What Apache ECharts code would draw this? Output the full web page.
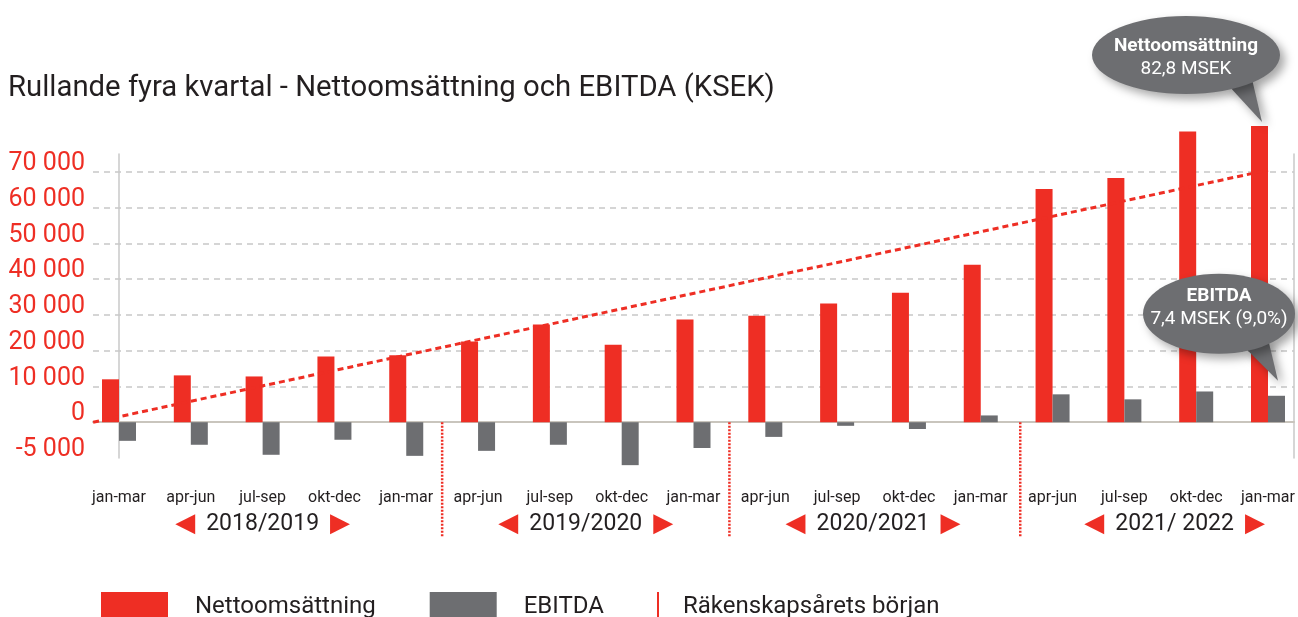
<!DOCTYPE html>
<html>
<head>
<meta charset="utf-8">
<script src="https://cdn.jsdelivr.net/npm/echarts@6/dist/echarts.min.js"></script>
<style>
  html, body { margin: 0; padding: 0; background: #fff; }
  #chart { width: 1298px; height: 617px; }
</style>
</head>
<body>
<div id="chart"></div>
<script>
// kvartal (x-axel)
const quarters = ['jan-mar', 'apr-jun', 'jul-sep', 'okt-dec', 'jan-mar', 'apr-jun', 'jul-sep', 'okt-dec', 'jan-mar',
  'apr-jun', 'jul-sep', 'okt-dec', 'jan-mar', 'apr-jun', 'jul-sep', 'okt-dec', 'jan-mar'];
// rullande fyra kvartal, KSEK
const netSales = [12000, 13100, 12800, 18400, 18700, 22600, 27300, 21700, 28700, 29800, 33200, 36200, 44000, 65200, 68300, 81300, 82800];
const ebitda = [-5200, -6300, -9100, -4900, -9400, -8000, -6300, -12000, -7200, -4100, -1000, -1900, 1900, 7800, 6400, 8600, 7400];
// trendlinje (start/slut)
const trendX = [-0.36, 16];
const trendY = [0, 70500];
// räkenskapsårets början (mellan kvartal)
const fiscalStarts = [4.5, 8.5, 12.55];
// räkenskapsår
const years = ['2018/2019', '2019/2020', '2020/2021', '2021/ 2022'];
const yearCenters = [2, 6.5, 10.5, 14.7];
// y-axel
const yTickValues = [-10000, 0, 10000, 20000, 30000, 40000, 50000, 60000, 70000];
const yTickLabels = ['-5 000', '0', '10 000', '20 000', '30 000', '40 000', '50 000', '60 000', '70 000'];
const yGridValues = [10000, 20000, 30000, 40000, 50000, 60000, 70000];
// pratbubblor
const calloutX = [16, 16];
const calloutY = [82800, 7400];
const calloutTitles = ['Nettoomsättning', 'EBITDA'];
const calloutTexts = ['82,8 MSEK', '7,4 MSEK (9,0%)'];

const RED = '#ee2e24';
const GREY = '#6d6e71';
const TEXT = '#231f20';

const myChart = echarts.init(document.getElementById('chart'));

// bubblornas form relativt stapelns topp
const calloutShapes = [
  { body: [-82, -71], rx: 94, ry: 39, tail: [[-40, -41], [-16, -47], [-6, -4]], line1: -9, line2: 14 },
  { body: [-49, -82], rx: 76, ry: 40, tail: [[-23, -48], [0, -57], [10, -15]], line1: -18, line2: 5 }
];

const option = {
  animation: false,
  backgroundColor: '#fff',
  textStyle: { fontFamily: 'Roboto' },
  title: {
    text: 'Rullande fyra kvartal - Nettoomsättning och EBITDA (KSEK)',
    left: 3,
    top: 69,
    textStyle: { fontSize: 29.3, fontWeight: 'normal', color: TEXT, fontFamily: 'Roboto' }
  },
  legend: [{
    data: ['Nettoomsättning', 'EBITDA'],
    left: 96,
    top: 587,
    icon: 'rect',
    itemWidth: 67,
    itemHeight: 30,
    itemGap: 54,
    selectedMode: false,
    textStyle: { fontSize: 24, color: TEXT, fontFamily: 'Roboto', padding: [0, 0, 0, 22] }
  }, {
    data: ['Räkenskapsårets början'],
    left: 652,
    top: 587,
    icon: 'rect',
    itemWidth: 2,
    itemHeight: 30,
    selectedMode: false,
    itemStyle: { color: RED },
    textStyle: { fontSize: 24, color: TEXT, fontFamily: 'Roboto', padding: [0, 0, 0, 19] }
  }],
  grid: { left: 93, right: 4, top: 154, bottom: 159 },
  xAxis: {
    type: 'value',
    min: -0.362,
    max: 16.362,
    axisLine: { show: true, onZero: true, lineStyle: { color: '#c9c5bd', width: 2 } },
    axisTick: { show: false },
    splitLine: { show: false },
    axisLabel: {
      customValues: quarters.map((q, i) => i),
      formatter: (v) => quarters[Math.round(v)],
      margin: 32,
      fontSize: 16,
      color: TEXT
    }
  },
  yAxis: [{
    type: 'value',
    min: -10000,
    max: 75000,
    axisLine: { show: true, lineStyle: { color: '#c8c8c8', width: 1.5 } },
    axisTick: { show: false, customValues: yGridValues },
    splitLine: { show: true, lineStyle: { color: '#c8c8c8', width: 1.5, type: [6, 5] } },
    axisLabel: {
      customValues: yTickValues,
      formatter: (v) => yTickLabels[yTickValues.indexOf(v)],
      margin: 8,
      fontSize: 25,
      color: RED,
      verticalAlign: 'bottom',
      lineHeight: 16
    }
  }, {
    type: 'value',
    position: 'right',
    min: -10000,
    max: 75000,
    axisLine: { show: true, lineStyle: { color: '#c8c8c8', width: 1.5 } },
    axisTick: { show: false },
    axisLabel: { show: false },
    splitLine: { show: false }
  }],
  series: [{
    name: 'Nettoomsättning',
    type: 'bar',
    barWidth: 17,
    barGap: '0%',
    clip: false,
    itemStyle: { color: RED },
    data: netSales.map((v, i) => [i, v])
  }, {
    name: 'EBITDA',
    type: 'bar',
    barWidth: 17,
    barGap: '0%',
    clip: false,
    itemStyle: { color: GREY },
    data: ebitda.map((v, i) => [i, v])
  }, {
    name: 'trend',
    type: 'line',
    symbol: 'none',
    z: 3,
    lineStyle: { color: RED, width: 3, type: [6, 4] },
    data: trendX.map((x, i) => [x, trendY[i]])
  }, {
    name: 'Räkenskapsårets början',
    type: 'custom',
    clip: false,
    itemStyle: { color: RED },
    data: fiscalStarts.map(x => [x, 0]),
    renderItem: function (params, api) {
      const p = api.coord([api.value(0), 0]);
      return {
        type: 'line',
        shape: { x1: p[0], y1: p[1], x2: p[0], y2: p[1] + 114 },
        style: { stroke: RED, lineWidth: 2.5, lineDash: [2, 1.5] }
      };
    }
  }, {
    name: 'years',
    type: 'custom',
    clip: false,
    silent: true,
    data: yearCenters.map(x => [x, 0]),
    renderItem: function (params, api) {
      const p = api.coord([api.value(0), 0]);
      return {
        type: 'text',
        x: p[0],
        y: p[1] + 102,
        style: {
          text: '{t|◀}{y|' + years[params.dataIndex] + '}{t|▶}',
          align: 'center',
          verticalAlign: 'middle',
          rich: {
            t: { fontFamily: 'DejaVu Sans', fontSize: 26, fill: RED },
            y: { fontFamily: 'Roboto', fontSize: 23, fill: TEXT, padding: [0, 11, 0, 11] }
          }
        }
      };
    }
  }, {
    name: 'callouts',
    type: 'custom',
    clip: false,
    silent: true,
    z: 10,
    data: calloutX.map((x, i) => [x, calloutY[i]]),
    renderItem: function (params, api) {
      const i = params.dataIndex;
      const p = api.coord([api.value(0), api.value(1)]);
      const s = calloutShapes[i];
      const cx = p[0] + s.body[0];
      const cy = p[1] + s.body[1];
      const shade = { fill: GREY, shadowBlur: 10, shadowOffsetX: 5, shadowOffsetY: 5, shadowColor: 'rgba(0,0,0,0.35)' };
      return {
        type: 'group',
        children: [{
          type: 'polygon',
          shape: { points: s.tail.map(t => [p[0] + t[0], p[1] + t[1]]) },
          style: shade
        }, {
          type: 'ellipse',
          shape: { cx: cx, cy: cy, rx: s.rx, ry: s.ry },
          style: shade
        }, {
          type: 'text',
          x: cx,
          y: cy + s.line1,
          style: { text: calloutTitles[i], fill: '#fff', fontFamily: 'Roboto', fontWeight: 'bold', fontSize: 19, align: 'center', verticalAlign: 'middle' }
        }, {
          type: 'text',
          x: cx,
          y: cy + s.line2,
          style: { text: calloutTexts[i], fill: '#fff', fontFamily: 'Roboto', fontSize: 19, align: 'center', verticalAlign: 'middle' }
        }]
      };
    }
  }]
};
myChart.setOption(option);
</script>
</body>
</html>
